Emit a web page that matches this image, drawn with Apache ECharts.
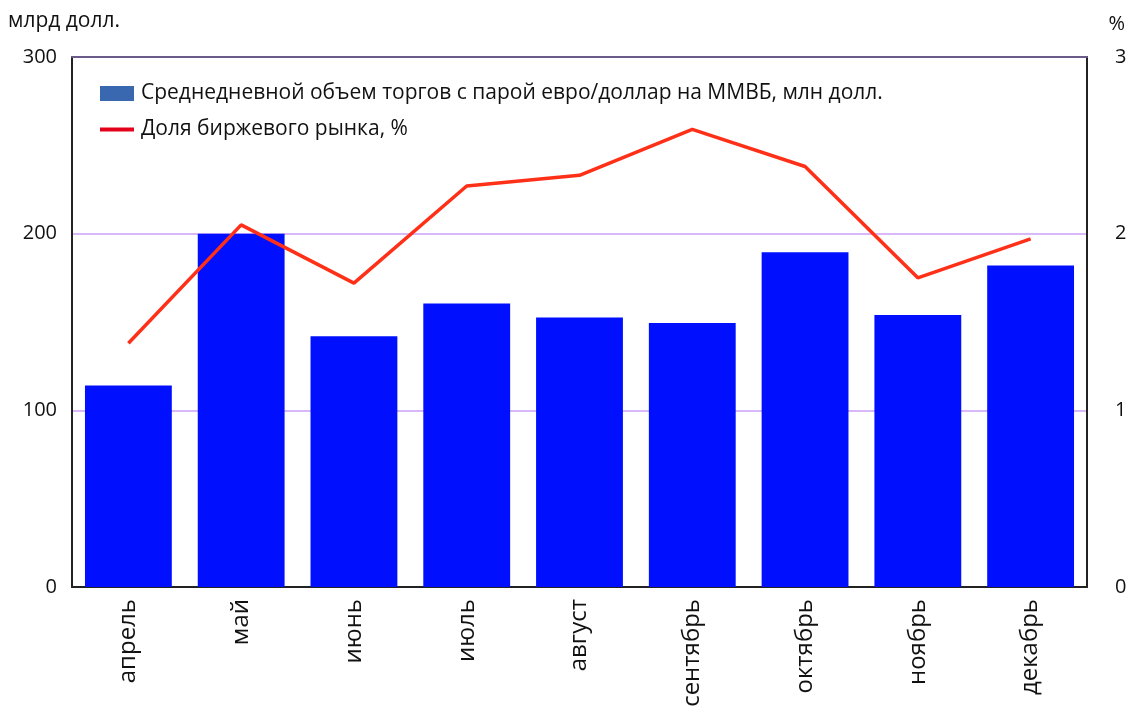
<!DOCTYPE html>
<html>
<head>
<meta charset="utf-8">
<script src="https://cdn.jsdelivr.net/npm/echarts@6/dist/echarts.min.js"></script>
<style>
  html, body { margin: 0; padding: 0; background: #fff; }
  #grafico { width: 1132px; height: 712px; }
</style>
</head>
<body>
<div id="grafico"></div>
<script>
// months
var meses = ['апрель', 'май', 'июнь', 'июль', 'август', 'сентябрь', 'октябрь', 'ноябрь', 'декабрь'];
// average daily volume, left axis
var volumen = [114, 200, 142, 160.5, 152.5, 149.5, 189.5, 154, 182];
// exchange share, %, right axis
var cuota = [1.38, 2.05, 1.72, 2.27, 2.33, 2.59, 2.38, 1.75, 1.97];
var ticksIzq = [0, 100, 200, 300];
var ticksDer = [0, 1, 2, 3];

var nombreBarra = 'Среднедневной объем торгов с парой евро/доллар на ММВБ, млн долл.';
var nombreLinea = 'Доля биржевого рынка, %';

var fuente = '"Open Sans", "Noto Sans", sans-serif';

let myChart = echarts.init(document.getElementById('grafico'));

var option = {
    animation: false,
    textStyle: {fontFamily: fuente},
    grid: {left: 72, right: 45, top: 57, bottom: 125},
    legend: {
        left: 95,
        top: 78,
        orient: 'vertical',
        itemWidth: 34,
        itemHeight: 15,
        itemGap: 15,
        textStyle: {fontSize: 21, color: '#111', fontFamily: fuente, padding: [0, 0, 0, 2]},
        data: [
            {name: nombreBarra, icon: 'rect', itemStyle: {color: '#3a68b0'}},
            {name: nombreLinea, icon: 'path://M0,0H34V4H0Z', itemStyle: {color: '#e3001b'}}
        ]
    },
    graphic: [
        {type: 'text', left: 8, top: 11, style: {text: 'млрд долл.', fontSize: 21, fill: '#111', fontFamily: fuente}},
        {type: 'text', right: 7, top: 14, style: {text: '%', fontSize: 20, fill: '#111', fontFamily: fuente}}
    ],
    xAxis: [
        {
            type: 'category',
            data: meses,
            axisLine: {lineStyle: {color: '#222', width: 2}},
            axisTick: {show: false},
            axisLabel: {rotate: 90, fontSize: 24, color: '#111', margin: 12, interval: 0}
        },
        {
            // top frame line
            type: 'category',
            data: meses,
            position: 'top',
            axisLine: {show: true, onZero: false, lineStyle: {color: '#6b5b8a', width: 2}},
            axisTick: {show: false},
            axisLabel: {show: false},
            z: 10
        }
    ],
    yAxis: [
        {
            type: 'value',
            min: ticksIzq[0],
            max: ticksIzq[ticksIzq.length - 1],
            interval: 100,
            axisLine: {show: true, lineStyle: {color: '#222', width: 2}},
            axisTick: {show: false},
            axisLabel: {fontSize: 20, color: '#111', margin: 15},
            splitLine: {showMaxLine: false, showMinLine: false, lineStyle: {color: '#d8b8f8', width: 2}}
        },
        {
            type: 'value',
            min: ticksDer[0],
            max: ticksDer[ticksDer.length - 1],
            interval: 1,
            axisLine: {show: true, lineStyle: {color: '#222', width: 2}},
            axisTick: {show: false},
            axisLabel: {fontSize: 20, color: '#111', margin: 28},
            splitLine: {show: false}
        }
    ],
    series: [
        {
            name: nombreBarra,
            type: 'bar',
            data: volumen,
            barWidth: '77%',
            itemStyle: {color: '#0010ff'},
            yAxisIndex: 0
        },
        {
            name: nombreLinea,
            type: 'line',
            data: cuota,
            yAxisIndex: 1,
            symbol: 'none',
            lineStyle: {color: '#ff3018', width: 3.5},
            itemStyle: {color: '#ff3018'}
        }
    ]
};

myChart.setOption(option);
</script>
</body>
</html>
